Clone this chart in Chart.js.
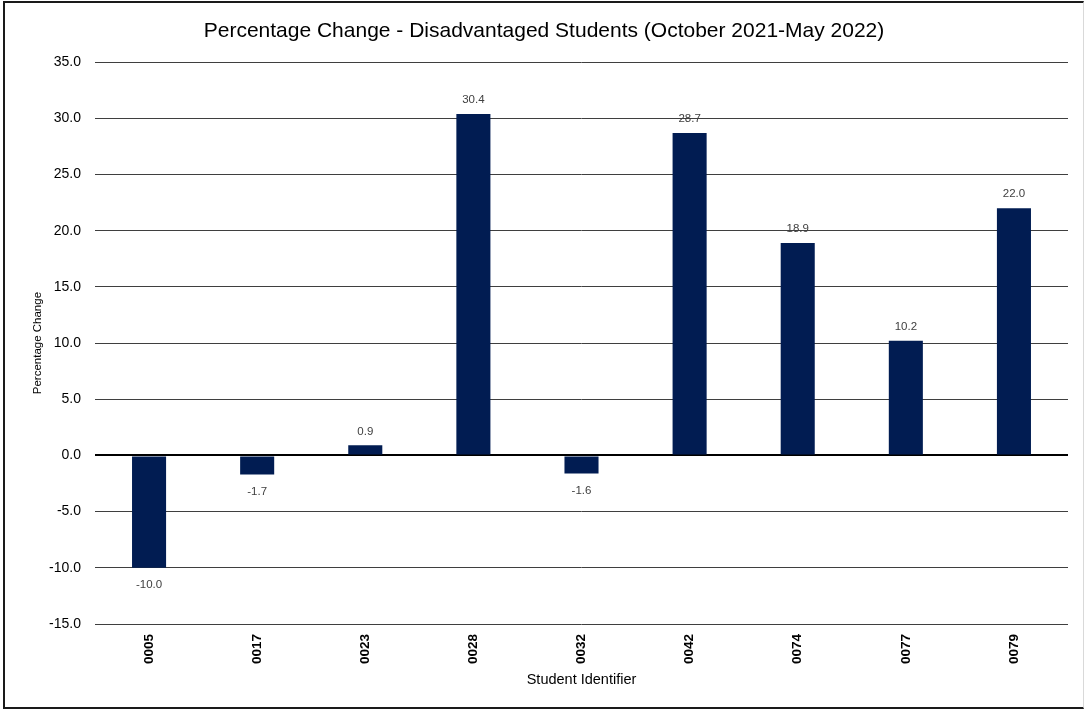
<!DOCTYPE html>
<html>
<head>
<meta charset="utf-8">
<title>Percentage Change - Disadvantaged Students</title>
<script src="https://cdn.jsdelivr.net/npm/chart.js@4.4.1/dist/chart.umd.min.js"></script>
<style>
  html, body { margin: 0; padding: 0; background: #fff; }
  #wrap { position: relative; width: 1084px; height: 709px; overflow: hidden; }
  #frame { position: absolute; left: 3px; top: 1px; width: 1081px; height: 708px;
           border-left: 2px solid #1a1a1a; border-top: 2px solid #1a1a1a;
           border-bottom: 2px solid #1a1a1a; border-right: 1px solid #d9d9d9;
           pointer-events: none; box-sizing: border-box; }
  canvas { position: absolute; left: 0; top: 0; }
</style>
</head>
<body>
<div id="wrap">
  <canvas id="chart" width="1084" height="709"></canvas>
  <div id="frame"></div>
</div>
<script>
const studentIds = ['0005', '0017', '0023', '0028', '0032', '0042', '0074', '0077', '0079'];
const pctChange = [-10.0, -1.7, 0.9, 30.4, -1.6, 28.7, 18.9, 10.2, 22.0];
const yTicks = [-15, -10, -5, 0, 5, 10, 15, 20, 25, 30, 35];

const FONT = "'Liberation Sans', Arial, sans-serif";

// Writes each bar's value above (positive) or below (negative) the bar
const valueLabels = {
  id: 'valueLabels',
  afterDatasetsDraw(chart) {
    const ctx = chart.ctx;
    const meta = chart.getDatasetMeta(0);
    ctx.save();
    ctx.font = '11.5px ' + FONT;
    ctx.fillStyle = '#404040';
    ctx.textAlign = 'center';
    ctx.textBaseline = 'middle';
    meta.data.forEach((bar, i) => {
      const v = chart.data.datasets[0].data[i];
      const y = v >= 0 ? bar.y - 14 : bar.y + 17;
      ctx.fillText(v.toFixed(1), bar.x, y);
    });
    ctx.restore();
  }
};

new Chart(document.getElementById('chart'), {
  type: 'bar',
  data: {
    labels: studentIds,
    datasets: [{
      data: pctChange,
      backgroundColor: '#011c52',
      borderWidth: 0,
      barPercentage: 0.315,
      categoryPercentage: 1.0
    }]
  },
  options: {
    responsive: false,
    animation: false,
    layout: { padding: { left: 20, right: 16, top: 0, bottom: 20 } },
    plugins: {
      legend: { display: false },
      tooltip: { enabled: false },
      title: {
        display: true,
        text: 'Percentage Change - Disadvantaged Students (October 2021-May 2022)',
        color: '#000',
        font: { family: FONT, size: 21, weight: 'normal', lineHeight: 1.2 },
        padding: { top: 19, bottom: 18 }
      }
    },
    scales: {
      x: {
        grid: { display: false, drawTicks: false },
        border: { display: false },
        ticks: {
          color: '#000',
          font: { family: FONT, size: 13.5, weight: 'bold' },
          minRotation: 90, maxRotation: 90,
          padding: 10
        },
        title: {
          display: true,
          text: 'Student Identifier',
          color: '#000',
          font: { family: FONT, size: 14.5 },
          padding: { top: 4, bottom: 0 }
        },
        afterFit(scale) { scale.height = 65; }
      },
      y: {
        min: -15,
        max: 35,
        afterBuildTicks(scale) { scale.ticks = yTicks.map(v => ({ value: v })); },
        grid: {
          drawTicks: false,
          color: ctx => ctx.tick && ctx.tick.value === 0 ? '#000' : '#3f3f3f',
          lineWidth: ctx => ctx.tick && ctx.tick.value === 0 ? 2 : 1
        },
        border: { display: false },
        ticks: {
          color: '#000',
          font: { family: FONT, size: 14 },
          padding: 14,
          callback: v => Number(v).toFixed(1)
        },
        title: {
          display: true,
          text: 'Percentage Change',
          color: '#000',
          font: { family: FONT, size: 11.5 },
          padding: { top: 11, bottom: 11 }
        },
        afterFit(scale) { scale.width = 75; }
      }
    }
  },
  plugins: [valueLabels]
});
</script>
</body>
</html>
